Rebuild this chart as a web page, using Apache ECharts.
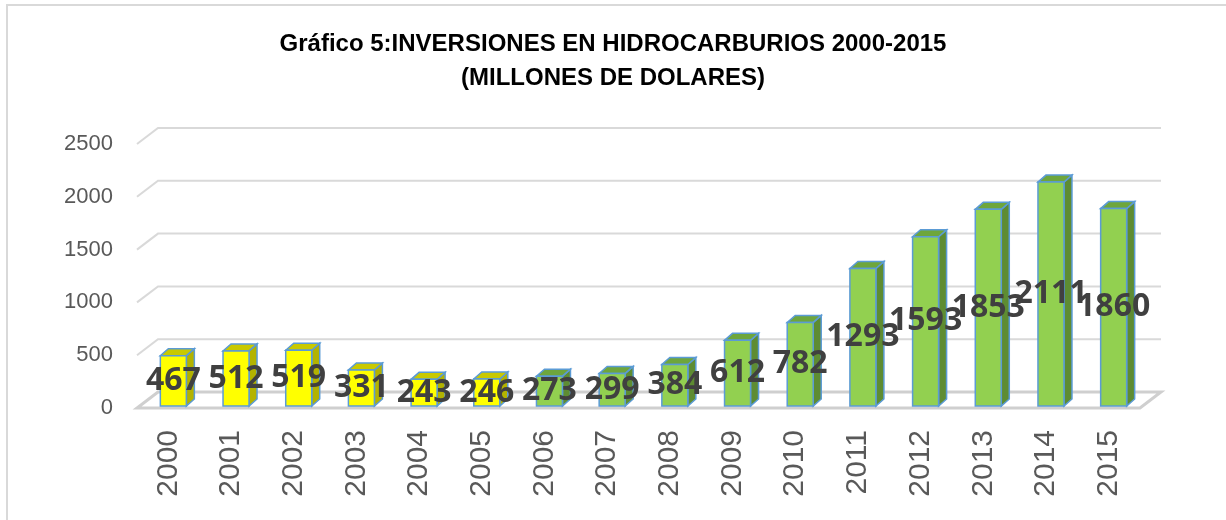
<!DOCTYPE html>
<html>
<head>
<meta charset="utf-8">
<script src="https://cdn.jsdelivr.net/npm/echarts@6/dist/echarts.min.js"></script>
<style>
  html, body { margin: 0; padding: 0; background: #fff; }
  #main { width: 1226px; height: 520px; }
</style>
</head>
<body>
<div id="main"></div>
<script>
// datos
var years = ['2000', '2001', '2002', '2003', '2004', '2005', '2006', '2007',
             '2008', '2009', '2010', '2011', '2012', '2013', '2014', '2015'];
var inversiones = [467, 512, 519, 331, 243, 246, 273, 299, 384, 612, 782, 1293, 1593, 1853, 2111, 1860];
var gridTicks = [0, 500, 1000, 1500, 2000, 2500];
var yellowYears = 6; // los primeros 6 años en amarillo

var DX = 21, DY = 16;     // profundidad del "suelo" 3D
var BDX = 8, BDY = 7;     // profundidad de cada barra

var myChart = echarts.init(document.getElementById('main'));

function renderGrid(params, api) {
  var cs = params.coordSys;
  var y = api.coord([0, api.value(1)])[1];
  var x0 = cs.x, x1 = cs.x + cs.width;
  if (api.value(1) === 0) {
    return {
      type: 'polygon',
      shape: { points: [[x0, y], [x1, y], [x1 + DX, y - DY], [x0 + DX, y - DY]] },
      style: { fill: 'none', stroke: '#cfcfcf', lineWidth: 3 }
    };
  }
  return {
    type: 'polyline',
    shape: { points: [[x0, y], [x0 + DX, y - DY], [x1 + DX, y - DY]] },
    style: { fill: 'none', stroke: '#d9d9d9', lineWidth: 2 }
  };
}

function barGeom(api) {
  var i = api.value(0);
  var base = api.coord([i, 0]);
  var top = api.coord([i, api.value(1)]);
  var cx = base[0] + 5;
  return { cx: cx, x0: cx - 13, x1: cx + 13, yb: base[1] - 2, yt: top[1] - 3 };
}

function renderBar(params, api) {
  var g = barGeom(api);
  var yellow = api.value(0) < yellowYears;
  var front = yellow ? '#ffff00' : '#92d050';
  var topC = yellow ? '#c9c900' : '#6ea63c';
  var side = yellow ? '#b3b300' : '#5e8c32';
  var stroke = '#5b9bd5';
  return {
    type: 'group',
    children: [
      {
        type: 'polygon',
        shape: { points: [[g.x1, g.yt], [g.x1 + BDX, g.yt - BDY], [g.x1 + BDX, g.yb - BDY], [g.x1, g.yb]] },
        style: { fill: side, stroke: stroke, lineWidth: 1.5 }
      },
      {
        type: 'polygon',
        shape: { points: [[g.x0, g.yt], [g.x1, g.yt], [g.x1 + BDX, g.yt - BDY], [g.x0 + BDX, g.yt - BDY]] },
        style: { fill: topC, stroke: stroke, lineWidth: 1.5 }
      },
      {
        type: 'rect',
        shape: { x: g.x0, y: g.yt, width: g.x1 - g.x0, height: g.yb - g.yt },
        style: { fill: front, stroke: stroke, lineWidth: 1.5 }
      }
    ]
  };
}

function renderLabel(params, api) {
  var g = barGeom(api);
  return {
    type: 'text',
    style: {
      text: String(api.value(1)),
      x: g.cx,
      y: (g.yt + g.yb) / 2,
      align: 'center',
      verticalAlign: 'middle',
      font: 'bold 32px "Open Sans", sans-serif',
      fill: '#404040'
    }
  };
}

myChart.setOption({
  backgroundColor: '#ffffff',
  animation: false,
  title: {
    text: 'Gráfico 5:INVERSIONES EN HIDROCARBURIOS 2000-2015\n(MILLONES DE DOLARES)',
    left: 'center',
    top: 22,
    textStyle: {
      fontFamily: '"Liberation Sans", Arial, sans-serif',
      fontWeight: 'bold',
      fontSize: 24,
      lineHeight: 34,
      color: '#000'
    }
  },
  graphic: [
    {
      type: 'rect',
      shape: { x: 7, y: 5, width: 1240, height: 540 },
      style: { fill: 'none', stroke: '#d9d9d9', lineWidth: 2 },
      silent: true
    }
  ],
  grid: { left: 137, right: 86, top: 144, bottom: 112 },
  xAxis: {
    type: 'category',
    data: years,
    axisLine: { show: false },
    axisTick: { show: false },
    axisLabel: {
      rotate: 90,
      margin: 22,
      fontSize: 30,
      fontFamily: '"Liberation Sans", Arial, sans-serif',
      color: '#595959'
    }
  },
  yAxis: {
    type: 'value',
    min: 0,
    max: 2500,
    interval: 500,
    axisLine: { show: false },
    axisTick: { show: false },
    splitLine: { show: false },
    axisLabel: {
      margin: 24,
      fontSize: 22,
      fontFamily: '"Liberation Sans", Arial, sans-serif',
      color: '#595959',
      formatter: function (v) { return String(v); }
    }
  },
  series: [
    {
      type: 'custom',
      name: 'rejilla',
      renderItem: renderGrid,
      data: gridTicks.map(function (t) { return [0, t]; }),
      silent: true,
      z: 1
    },
    {
      type: 'custom',
      name: 'barras',
      renderItem: renderBar,
      data: inversiones.map(function (v, i) { return [i, v]; }),
      z: 2
    },
    {
      type: 'custom',
      name: 'etiquetas',
      renderItem: renderLabel,
      data: inversiones.map(function (v, i) { return [i, v]; }),
      silent: true,
      z: 3
    }
  ]
});
</script>
</body>
</html>
